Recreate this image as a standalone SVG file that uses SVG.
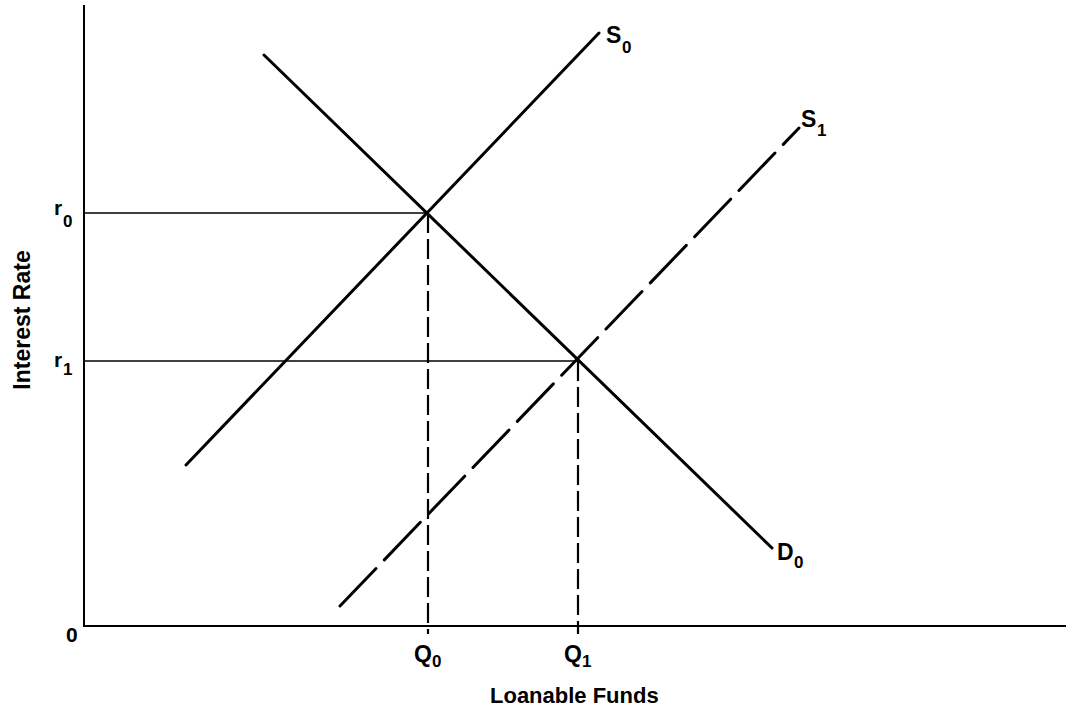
<svg xmlns="http://www.w3.org/2000/svg" width="1066" height="710" viewBox="0 0 1066 710">
<style>
.t{font-family:"Liberation Sans",Arial,sans-serif;font-weight:bold;fill:#000}
.lbl{font-size:23px}
.sub{font-size:17px}
.ax{stroke:#000;stroke-width:2;fill:none}
.ref{stroke:#000;stroke-width:1.6;fill:none}
.curve{stroke:#000;stroke-width:3;fill:none;stroke-linecap:round}
.drop{stroke:#000;stroke-width:2.2;fill:none;stroke-dasharray:20 6}
.shift{stroke:#000;stroke-width:3;fill:none;stroke-dasharray:52 12;stroke-linecap:round}
</style>
<rect width="1066" height="710" fill="#fff"/>
<g id="axes">
<line class="ax" x1="84" y1="5" x2="84" y2="627"/>
<line class="ax" x1="83" y1="626" x2="1066" y2="626"/>
</g>
<g id="connectors">
<line class="ref" x1="84" y1="213" x2="428" y2="213"/>
<line class="ref" x1="84" y1="361" x2="578" y2="361"/>
<line class="drop" x1="428" y1="213" x2="428" y2="634"/>
<line class="drop" x1="578" y1="361" x2="578" y2="634"/>
</g>
<g id="S0"><line class="curve" x1="186" y1="465" x2="599" y2="33"/></g>
<g id="D0"><line class="curve" x1="264" y1="55" x2="772" y2="548"/></g>
<g id="S1"><line class="shift" x1="340" y1="606" x2="799" y2="128"/></g>
<g id="labels">
<text class="t lbl" x="606" y="43">S</text><text class="t sub" x="622" y="53">0</text>
<text class="t lbl" x="801" y="127">S</text><text class="t sub" x="817" y="136">1</text>
<text class="t lbl" x="777" y="560">D</text><text class="t sub" x="794" y="568">0</text>
<text class="t lbl" x="54" y="215" style="font-size:21px">r</text><text class="t sub" x="63" y="227">0</text>
<text class="t lbl" x="54" y="367" style="font-size:21px">r</text><text class="t sub" x="63" y="375">1</text>
<text class="t lbl" x="66" y="642" style="font-size:21px">0</text>
<text class="t lbl" x="414" y="662">Q</text><text class="t sub" x="432" y="667">0</text>
<text class="t lbl" x="564" y="662">Q</text><text class="t sub" x="582" y="667">1</text>
<text class="t lbl" x="490" y="703" style="font-size:22px">Loanable Funds</text>
<text class="t lbl" transform="translate(30 320) rotate(-90)" text-anchor="middle">Interest Rate</text>
</g>
</svg>
